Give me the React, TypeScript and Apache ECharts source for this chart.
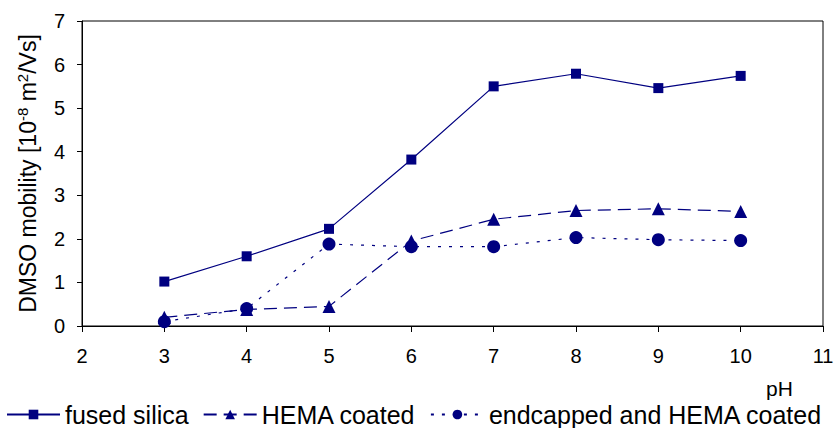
import React, { useEffect, useRef } from "react";
import * as echarts from "echarts";

const pH = [3, 4, 5, 6, 7, 8, 9, 10];
const fusedSilica = [1.02, 1.6, 2.23, 3.82, 5.5, 5.79, 5.46, 5.74];
const hemaCoated = [0.2, 0.38, 0.45, 1.95, 2.45, 2.65, 2.69, 2.63];
const endcapped = [0.1, 0.4, 1.88, 1.82, 1.82, 2.03, 1.98, 1.96];
const seriesNames = ["fused silica", "HEMA coated", "endcapped and HEMA coated"];
const xAxisTitle = "pH";

const NAVY = "#000080";

export default function App() {
  const ref = useRef<HTMLDivElement>(null);
  useEffect(() => {
    if (!ref.current) return;
    const chart = echarts.init(ref.current, undefined, { renderer: "svg" });
    const font = "Liberation Sans, Arial, sans-serif";
    const mk = (vals: number[]) => pH.map((x, i) => [x, vals[i]]);
    chart.setOption({
      animation: false,
      textStyle: { fontFamily: font },
      grid: {
        left: 82,
        right: 14,
        top: 21,
        bottom: 102,
        show: true,
        borderColor: "#000",
        borderWidth: 1,
      },
      graphic: [
        {
          type: "text",
          x: 766,
          y: 378,
          style: {
            text: xAxisTitle,
            fontSize: 21,
            fontFamily: font,
            fill: "#000",
          },
        },
      ],
      legend: {
        top: 402,
        left: 6,
        itemWidth: 53,
        itemHeight: 12,
        itemGap: 14,
        padding: 0,
        textStyle: { fontSize: 25, color: "#000", fontFamily: font },
        data: seriesNames,
      },
      xAxis: {
        type: "value",
        min: 2,
        max: 11,
        interval: 1,
        axisLine: { show: true, lineStyle: { color: "#000", width: 1 } },
        axisTick: { show: true, inside: false, length: 6, lineStyle: { color: "#000" } },
        axisLabel: { fontSize: 20, color: "#000", margin: 20 },
        splitLine: { show: false },
      },
      yAxis: {
        type: "value",
        min: 0,
        max: 7,
        interval: 1,
        name: "DMSO mobility [10{sup|-8} m{sup|2}/Vs]",
        nameLocation: "middle",
        nameGap: 42,
        nameRotate: 90,
        nameTextStyle: {
          fontSize: 23,
          color: "#000",
          rich: {
            sup: { fontSize: 15, verticalAlign: "top", padding: [0, 0, 10, 0], color: "#000" },
          },
        },
        axisLine: { show: true, lineStyle: { color: "#000", width: 1 } },
        axisTick: { show: true, inside: false, length: 5, lineStyle: { color: "#000" } },
        axisLabel: { fontSize: 20, color: "#000", margin: 17 },
        splitLine: { show: false },
      },
      series: [
        {
          name: seriesNames[0],
          type: "line",
          data: mk(fusedSilica),
          symbol: "rect",
          symbolSize: 10,
          itemStyle: { color: NAVY },
          lineStyle: { color: NAVY, width: 1.2, type: "solid" },
        },
        {
          name: seriesNames[1],
          type: "line",
          data: mk(hemaCoated),
          symbol: "triangle",
          symbolSize: 13,
          itemStyle: { color: NAVY },
          lineStyle: { color: NAVY, width: 1.2, type: [13, 7] },
        },
        {
          name: seriesNames[2],
          type: "line",
          data: mk(endcapped),
          symbol: "circle",
          symbolSize: 13,
          itemStyle: { color: NAVY },
          lineStyle: { color: NAVY, width: 1.2, type: [3, 8] },
        },
      ],
    });
    return () => chart.dispose();
  }, []);
  return (
    <div
      ref={ref}
      style={{ position: "absolute", left: 0, top: 0, width: 837, height: 428 }}
    />
  );
}
